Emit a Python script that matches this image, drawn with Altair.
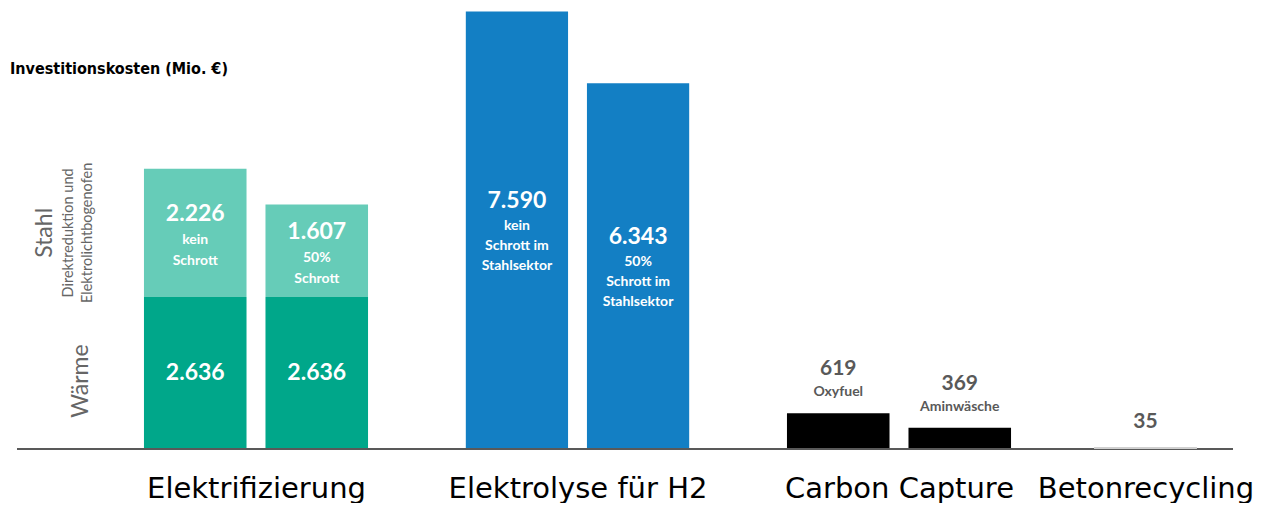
import altair as alt
import pandas as pd

# ---------------- data ----------------
elek_variants = ["kein Schrott", "50% Schrott"]
elek_waerme = [2636, 2636]
elek_stahl = [2226, 1607]
elek_stahl_notes = ["kein\nSchrott", "50%\nSchrott"]

h2_variants = ["kein Schrott im Stahlsektor", "50% Schrott im Stahlsektor"]
h2_values = [7590, 6343]
h2_notes = ["kein\nSchrott im\nStahlsektor", "50%\nSchrott im\nStahlsektor"]

cc_variants = ["Oxyfuel", "Aminwäsche"]
cc_values = [619, 369]

beton_variants = ["Betonrecycling"]
beton_values = [35]

group_titles = ["Elektrifizierung", "Elektrolyse für H2", "Carbon Capture", "Betonrecycling"]
y_title = "Investitionskosten (Mio. €)"
stahl_label = "Stahl"
stahl_sub = "Direktreduktion und\nElektrolichtbogenofen"
waerme_label = "Wärme"
baseline_value = [0]


def de(v):
    return f"{v:,}".replace(",", ".")


# ---------------- style ----------------
H = 441
Y_MAX = 7650
PI = 0.156
PO = 0.403
NUM_FONT = "Lato"
GREY = "#595959"
yscale = alt.Scale(domain=[0, Y_MAX], nice=False, zero=True)


def xaxis(title):
    return alt.Axis(title=title, labels=False, ticks=False, domain=False,
                    titleFont="DejaVu Sans", titleFontSize=29, titleFontWeight="normal",
                    titleColor="#000000", titlePadding=25)


def baseline(x0, x1):
    return alt.Chart(pd.DataFrame({"b": baseline_value})).mark_rule(
        color=GREY, strokeWidth=2).encode(
        x=alt.value(x0), x2=alt.value(x1),
        y=alt.Y("b:Q", scale=yscale, axis=None))


# ---------------- Elektrifizierung ----------------
rows = []
for i, var in enumerate(elek_variants):
    rows.append(dict(variant=var, segment="Wärme", order=0, value=elek_waerme[i],
                     label=de(elek_waerme[i]), note=""))
    rows.append(dict(variant=var, segment="Stahl", order=1, value=elek_stahl[i],
                     label=de(elek_stahl[i]), note=elek_stahl_notes[i]))
elek_df = pd.DataFrame(rows)

elek_base = alt.Chart(elek_df).transform_stack(
    stack="value", groupby=["variant"], as_=["y0", "y1"],
    sort=[alt.SortField("order", order="ascending")]
).transform_calculate(mid="(datum.y0 + datum.y1) / 2")

W1 = 322
x1 = alt.X("variant:N", sort=elek_variants,
           scale=alt.Scale(paddingInner=PI, paddingOuter=PO), axis=xaxis(group_titles[0]))
bars1 = elek_base.mark_bar().encode(
    x=x1, y=alt.Y("y1:Q", scale=yscale, axis=None), y2="y0:Q",
    color=alt.Color("segment:N", scale=alt.Scale(domain=["Wärme", "Stahl"],
                                                  range=["#00A78A", "#66CCB8"]), legend=None))
num1w = elek_base.transform_filter("datum.segment == 'Wärme'").mark_text(
    font=NUM_FONT, fontSize=23, fontWeight="bold", color="white", baseline="middle").encode(
    x=x1, y=alt.Y("mid:Q", scale=yscale, axis=None), text="label:N")
num1s = elek_base.transform_filter("datum.segment == 'Stahl'").mark_text(
    font=NUM_FONT, fontSize=23, fontWeight="bold", color="white", baseline="middle", dy=-19).encode(
    x=x1, y=alt.Y("mid:Q", scale=yscale, axis=None), text="label:N")
note1s = elek_base.transform_filter("datum.segment == 'Stahl'").mark_text(
    font=NUM_FONT, fontSize=14, fontWeight="bold", color="white", baseline="middle",
    dy=7, lineBreak="\n", lineHeight=21).encode(
    x=x1, y=alt.Y("mid:Q", scale=yscale, axis=None), text="note:N")
p1 = alt.layer(bars1, num1w, num1s, note1s, baseline(0, W1)).properties(width=W1, height=H)

# ---------------- left label panel ----------------
W0 = 85
left_base = elek_base.transform_filter(alt.FieldEqualPredicate(field="variant", equal=elek_variants[0]))
stahl_t = left_base.transform_filter("datum.segment == 'Stahl'").mark_text(
    font=NUM_FONT, fontSize=23, color="#666666", angle=270, baseline="middle", align="center").encode(
    x=alt.value(35), y=alt.Y("mid:Q", scale=yscale, axis=None), text=alt.value(stahl_label))
stahl_s = left_base.transform_filter("datum.segment == 'Stahl'").mark_text(
    font=NUM_FONT, fontSize=14.5, color="#666666", angle=270, baseline="middle", align="center",
    lineBreak="\n", lineHeight=19).encode(
    x=alt.value(59), y=alt.Y("mid:Q", scale=yscale, axis=None), text=alt.value(stahl_sub))
waerme_t = left_base.transform_filter("datum.segment == 'Wärme'").mark_text(
    font=NUM_FONT, fontSize=23, color="#666666", angle=270, baseline="middle", align="center",
    dx=-8).encode(
    x=alt.value(71), y=alt.Y("mid:Q", scale=yscale, axis=None), text=alt.value(waerme_label))
title_t = alt.Chart(pd.DataFrame({"t": [y_title]})).mark_text(
    font="DejaVu Sans Condensed, Roboto, sans-serif", fontSize=16, fontWeight="bold",
    color="#000000", align="left", baseline="middle").encode(
    x=alt.value(0), y=alt.value(61), text="t:N")
p0 = alt.layer(stahl_t, stahl_s, waerme_t, title_t, baseline(7, W0)).properties(width=W0, height=H)

# ---------------- Elektrolyse ----------------
W2 = 321
h2_df = pd.DataFrame(dict(variant=h2_variants, value=h2_values,
                          label=[de(v) for v in h2_values], note=h2_notes))
h2_base = alt.Chart(h2_df).transform_calculate(mid="datum.value / 2")
x2 = alt.X("variant:N", sort=h2_variants,
           scale=alt.Scale(paddingInner=PI, paddingOuter=PO), axis=xaxis(group_titles[1]))
bars2 = h2_base.mark_bar(color="#137FC4").encode(
    x=x2, y=alt.Y("value:Q", scale=yscale, axis=None))
num2 = h2_base.mark_text(font=NUM_FONT, fontSize=23, fontWeight="bold", color="white",
                         baseline="middle", dy=-29).encode(
    x=x2, y=alt.Y("mid:Q", scale=yscale, axis=None), text="label:N")
note2 = h2_base.mark_text(font=NUM_FONT, fontSize=14, fontWeight="bold", color="white",
                          baseline="middle", dy=-4, lineBreak="\n", lineHeight=20).encode(
    x=x2, y=alt.Y("mid:Q", scale=yscale, axis=None), text="note:N")
p2 = alt.layer(bars2, num2, note2, baseline(0, W2)).properties(width=W2, height=H)

# ---------------- Carbon Capture ----------------
W3 = 322
cc_df = pd.DataFrame(dict(variant=cc_variants, value=cc_values,
                          label=[de(v) for v in cc_values]))
cc_base = alt.Chart(cc_df)
x3 = alt.X("variant:N", sort=cc_variants,
           scale=alt.Scale(paddingInner=PI, paddingOuter=PO), axis=xaxis(group_titles[2]))
bars3 = cc_base.mark_bar(color="#000000").encode(
    x=x3, y=alt.Y("value:Q", scale=yscale, axis=None))
num3 = cc_base.mark_text(font=NUM_FONT, fontSize=21, fontWeight="bold", color=GREY,
                         baseline="middle", dy=-44).encode(
    x=x3, y=alt.Y("value:Q", scale=yscale, axis=None), text="label:N")
note3 = cc_base.mark_text(font=NUM_FONT, fontSize=14, fontWeight="bold", color=GREY,
                          baseline="middle", dy=-21).encode(
    x=x3, y=alt.Y("value:Q", scale=yscale, axis=None), text="variant:N")
p3 = alt.layer(bars3, num3, note3, baseline(0, W3)).properties(width=W3, height=H)

# ---------------- Betonrecycling ----------------
W4 = 171
be_df = pd.DataFrame(dict(variant=beton_variants, value=beton_values,
                          label=[de(v) for v in beton_values]))
be_base = alt.Chart(be_df)
x4 = alt.X("variant:N", sort=beton_variants,
           scale=alt.Scale(paddingInner=PI, paddingOuter=0.279), axis=xaxis(group_titles[3]))
bars4 = be_base.mark_bar(color="#D0D0D0").encode(
    x=x4, y=alt.Y("value:Q", scale=yscale, axis=None))
num4 = be_base.mark_text(font=NUM_FONT, fontSize=21, fontWeight="bold", color=GREY,
                         baseline="middle", dy=-25).encode(
    x=x4, y=alt.Y("value:Q", scale=yscale, axis=None), text="label:N")
p4 = alt.layer(baseline(0, W4 + 2), bars4, num4).properties(width=W4, height=H)

chart = alt.hconcat(p0, p1, p2, p3, p4, spacing=0, bounds="flush").resolve_scale(
    x="independent", color="independent"
).properties(
    padding={"left": 2, "top": 0, "right": 0, "bottom": 0},
    background="white"
).configure_view(stroke=None)

chart.save("out.html", embed_options={"renderer": "svg", "actions": False})
